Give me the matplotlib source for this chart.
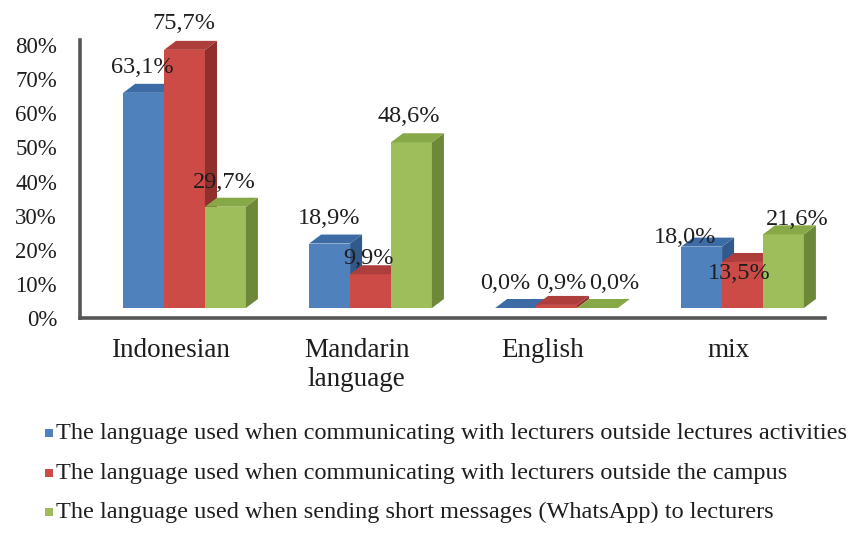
import matplotlib
matplotlib.use("Agg")
import matplotlib.pyplot as plt
from matplotlib.patches import Polygon, Rectangle
from matplotlib.transforms import ScaledTranslation, IdentityTransform
import numpy as np

# ---------------- data ----------------
categories = ["Indonesian", "Mandarin\nlanguage", "English", "mix"]
series_names = [
    "The language used when communicating with lecturers outside lectures activities",
    "The language used when communicating with lecturers outside the campus",
    "The language used when sending short messages (WhatsApp) to lecturers",
]
outside_lectures = [63.1, 18.9, 0.0, 18.0]
outside_campus = [75.7, 9.9, 0.9, 13.5]
whatsapp_messages = [29.7, 48.6, 0.0, 21.6]
y_ticks = [0, 10, 20, 30, 40, 50, 60, 70, 80]
y_tick_labels = [f"{t}%" for t in y_ticks]

# ---------------- style ----------------
W, H = 848, 533
DPI = 100
FONT = ["Liberation Serif", "DejaVu Serif"]
TXT = "#1e1e1e"
front_colors = ["#4F81BD", "#CD4B47", "#9DBE5A"]
top_colors = ["#3C6BA6", "#AE3E3B", "#87A847"]
side_colors = ["#30598C", "#90302D", "#6C8838"]
depth_dx, depth_dy = 12, 9          # 3-D depth in pixels
base_shift = 10                     # front faces sit above the axis line
bar_w = 0.22
# data-label offsets in pixels (series x category)
label_offsets = [
    [(-1.5, 20), (-1, 20), (-10, 19), (-17, 4)],
    [(-0.5, 21), (-2, 10), (5, 16), (-3, -17)],
    [(-1, 19), (-3, 20), (17, 19), (14, 9)],
]

fig = plt.figure(figsize=(W / DPI, H / DPI), dpi=DPI)
ax = fig.add_axes([80 / W, (H - 318) / H, (825 - 80) / W, (318 - 40) / H])
ax.set_ylim(0, (318 - 40) / 3.41)
ax.set_xlim(-0.562, -0.562 + 745 / 186)

for s in ["top", "right"]:
    ax.spines[s].set_visible(False)
for s in ["left", "bottom"]:
    ax.spines[s].set_color("#565656")
    ax.spines[s].set_linewidth(2.6)

ax.set_yticks(y_ticks)
ax.set_yticklabels(y_tick_labels, fontfamily=FONT, fontsize=16.5, color=TXT)
ax.tick_params(axis="y", length=0, pad=16.5)
ax.set_xticks([])

shift = ScaledTranslation(0, base_shift / DPI, fig.dpi_scale_trans)
bar_trans = ax.transData + shift
x = np.arange(len(categories))
series_values = [outside_lectures, outside_campus, whatsapp_messages]

for k, vals in enumerate(series_values):
    z = 2 + k * 0.1
    bars = ax.bar(x + (k - 1) * bar_w, vals, bar_w, color=front_colors[k],
                  linewidth=0, transform=bar_trans, zorder=z, clip_on=False)
    for j, p in enumerate(bars.patches):
        x0, w, h = p.get_x(), p.get_width(), p.get_height()
        (px0, py0), (px1, py1) = bar_trans.transform([(x0, 0), (x0 + w, h)])
        side = [(px1, py0), (px1, py1), (px1 + depth_dx, py1 + depth_dy),
                (px1 + depth_dx, py0 + depth_dy)]
        top = [(px0, py1), (px1, py1), (px1 + depth_dx, py1 + depth_dy),
               (px0 + depth_dx, py1 + depth_dy)]
        ax.add_patch(Polygon(side, closed=True, facecolor=side_colors[k],
                             edgecolor="none", transform=IdentityTransform(),
                             zorder=z + 0.01, clip_on=False))
        ax.add_patch(Polygon(top, closed=True, facecolor=top_colors[k],
                             edgecolor="none", transform=IdentityTransform(),
                             zorder=z + 0.02, clip_on=False))
        lbl = f"{vals[j]:.1f}%".replace(".", ",")
        ox, oy = label_offsets[k][j]
        ax.annotate(lbl, xy=(x0 + w / 2, h), xycoords=bar_trans,
                    xytext=(ox, oy), textcoords="offset pixels",
                    ha="center", va="baseline", fontsize=17.5,
                    fontfamily=FONT, color=TXT, zorder=5,
                    annotation_clip=False)

# category labels
cat_trans = ax.get_xaxis_transform() + ScaledTranslation(-14 / DPI, -20 / DPI, fig.dpi_scale_trans)
for i, c in enumerate(categories):
    ax.text(i, 0, c, transform=cat_trans, ha="center", va="top",
            multialignment="center", fontsize=19.5, fontfamily=FONT,
            color=TXT, linespacing=1.2)

# legend
baselines = [439, 479, 518]
for k, name in enumerate(series_names):
    fig.add_artist(Rectangle((45 / W, (H - baselines[k] + 2) / H), 8 / W, 8 / H,
                             transform=fig.transFigure, facecolor=front_colors[k],
                             edgecolor="none"))
    fig.text(56 / W, (H - baselines[k]) / H, name, ha="left", va="baseline",
             fontsize=17.5, fontfamily=FONT, color=TXT)

fig.savefig("out.png", dpi=DPI)
